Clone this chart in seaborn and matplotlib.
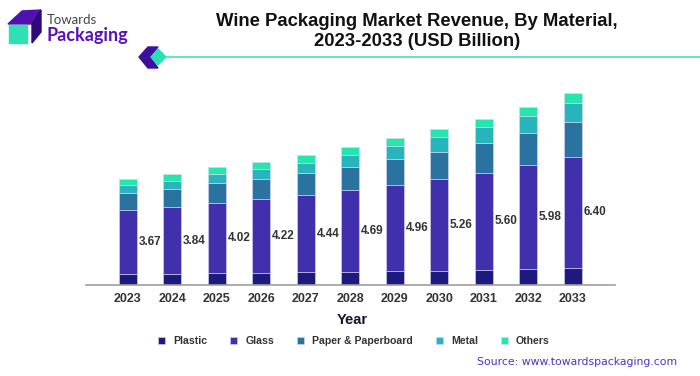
import numpy as np
import matplotlib
matplotlib.use('Agg')
import matplotlib.pyplot as plt
from matplotlib.patches import Polygon, Rectangle
import seaborn as sns

years = ['2023', '2024', '2025', '2026', '2027', '2028', '2029', '2030', '2031', '2032', '2033']
plastic = [0.63, 0.63, 0.69, 0.71, 0.73, 0.75, 0.79, 0.83, 0.86, 0.94, 0.98]
glass = [3.67, 3.84, 4.02, 4.22, 4.44, 4.69, 4.96, 5.26, 5.60, 5.98, 6.40]
paper = [0.99, 1.07, 1.15, 1.15, 1.26, 1.36, 1.48, 1.55, 1.70, 1.82, 2.00]
metal = [0.44, 0.46, 0.50, 0.59, 0.61, 0.67, 0.75, 0.84, 0.90, 0.99, 1.09]
others = [0.34, 0.38, 0.42, 0.38, 0.44, 0.46, 0.46, 0.46, 0.48, 0.52, 0.56]

series = [('Plastic', plastic, '#1c1a7e'), ('Glass', glass, '#4030ac'),
          ('Paper & Paperboard', paper, '#2a72a0'), ('Metal', metal, '#27b5bb'),
          ('Others', others, '#24e6ae')]

W, H = 700, 376
sns.set_theme(style='white')
plt.rcParams['font.family'] = ['Liberation Sans', 'DejaVu Sans']

fig = plt.figure(figsize=(W / 100, H / 100), dpi=100)
# plot area in pixels: x 86-615, baseline at y 285, top at y 85
ax = fig.add_axes([86 / W, (H - 285) / H, (615 - 86) / W, 200 / H])

bottom = np.zeros(len(years))
for name, values, color in series:
    sns.barplot(x=years, y=values, bottom=bottom, color=color, saturation=1, width=0.404,
                edgecolor='#d9d7f0', linewidth=0.4, label=name, legend=False, ax=ax)
    bottom = bottom + np.array(values)

# glass values sit beside the bars
for i, v in enumerate(glass):
    ax.text(i + 0.5, plastic[i] + v / 2, f'{v:.2f}', ha='center', va='center',
            fontsize=8.5, fontweight='bold', color='#333333')

ax.set_xlim(-0.937, 10.95)
ax.set_ylim(0, 200 / 17.4)
sns.despine(ax=ax, left=True)
ax.spines['bottom'].set_color('#a0a0a0')
ax.spines['bottom'].set_linewidth(1.2)
ax.set_yticks([])
ax.tick_params(axis='x', length=0, pad=6)
plt.setp(ax.get_xticklabels(), fontsize=9, fontweight='bold', color='#333333')
ax.set_xlabel('')

handles, labels = ax.get_legend_handles_labels()
fig.legend(handles, labels, loc='center', bbox_to_anchor=(354 / W, 1 - 341 / H), ncol=5, frameon=False,
           handlelength=0.66, handleheight=0.66, handletextpad=0.75, columnspacing=2.2,
           prop={'size': 7.6, 'weight': 'bold'}, labelcolor='#333333')

# overlay in pixel coordinates for the header, logo and captions
over = fig.add_axes([0, 0, 1, 1], facecolor='none')
over.set_xlim(0, W)
over.set_ylim(H, 0)
over.axis('off')

over.text(417, 21, 'Wine Packaging Market Revenue, By Material,', ha='center', va='center',
          fontsize=13.3, fontweight='bold', color='#111111')
over.text(417, 42, '2023-2033 (USD Billion)', ha='center', va='center',
          fontsize=13.3, fontweight='bold', color='#111111')
over.plot([165, 700], [57, 57], color='#45e0b8', lw=1.2)
over.add_patch(Polygon([(139, 57), (148, 47), (158, 47), (150, 57), (158, 68), (148, 68)], color='#3d0f9c'))
over.add_patch(Polygon([(158, 49), (166, 57), (158, 65), (151, 57)], color='#27e0b4'))

over.add_patch(Polygon([(8, 24), (22, 11), (41, 10), (32, 24)], color='#4f12b0'))
over.add_patch(Polygon([(32, 24), (41, 10), (41, 32), (32, 43)], color='#2d0a78'))
over.add_patch(Rectangle((9, 25), 18, 18, color='#2ee0b4'))
over.text(47, 20, 'Towards', ha='left', va='center', fontsize=9.5, color='#444444', family='Lato')
over.text(46, 36, 'Packaging', ha='left', va='center', fontsize=13, fontweight='bold', color='#5a10c0', family='Lato')

over.text(352, 320, 'Year', ha='center', va='center', fontsize=10.5, fontweight='bold', color='#1a1030')
over.text(677, 362, 'Source: www.towardspackaging.com', ha='right', va='center', fontsize=7.8,
          color='#4a35c8', family='DejaVu Sans')

fig.savefig('out.png', dpi=100)
